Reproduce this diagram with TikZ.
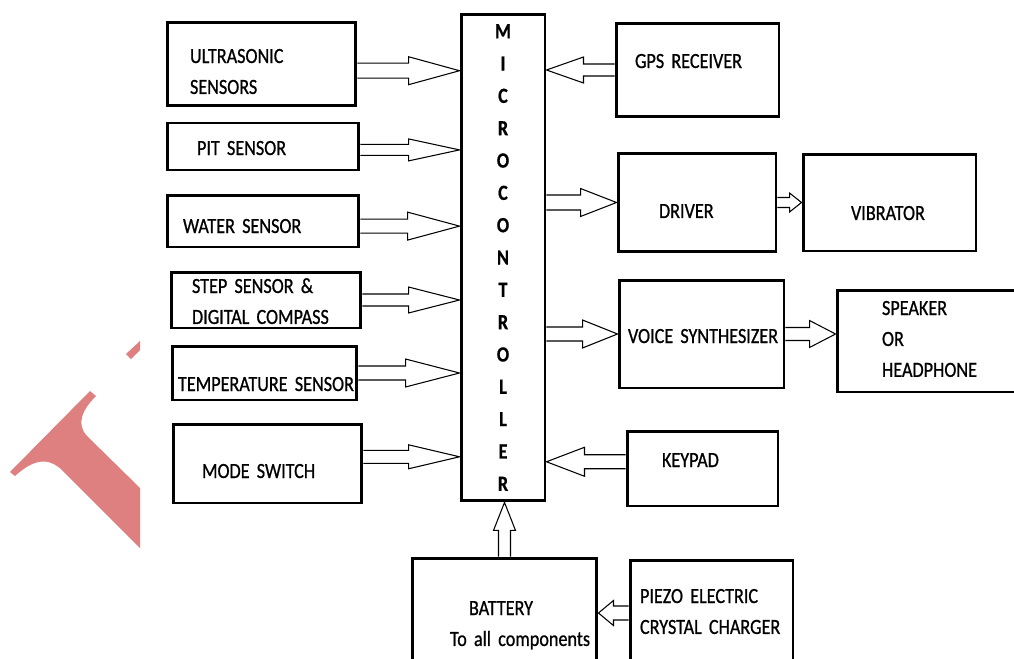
\documentclass[tikz,border=0pt]{standalone}
\usepackage{fontspec}
\setmainfont[FakeStretch=0.84, FakeBold=0.8, WordSpace=0.7]{Carlito}
\usepackage{tikz}
\usetikzlibrary{calc}
\definecolor{wmred}{RGB}{222,128,128}
\tikzset{
  box/.style={draw, rectangle, line width=1.7pt, inner sep=0pt, align=left, font=\fontsize{12.3}{17.6}\selectfont},
  mcubox/.style={draw, rectangle, line width=1.7pt, inner sep=0pt, align=center, font=\fontsize{12.3}{18.4}\selectfont\bfseries},
  blockarr/.style={draw, line width=0.6pt, line join=miter}
}
% hollow block arrow: from, to, head length, half shaft, half head
\newcommand{\barrow}[5]{%
  \coordinate (ba) at (#1);
  \coordinate (bb) at (#2);
  \coordinate (bc) at ($(bb)!#3!(ba)$);
  \draw[blockarr] ($(ba)!#4!90:(bb)$) -- ($(bc)!#4!90:(bb)$) -- ($(bc)!#5!90:(bb)$) -- (bb)
    -- ($(bc)!#5!-90:(bb)$) -- ($(bc)!#4!-90:(bb)$) -- ($(ba)!#4!-90:(bb)$);
}

\begin{document}
\begin{tikzpicture}[x=0.02cm, y=-0.02cm]
  \useasboundingbox (0,0) rectangle (1014,659);
  \clip (0,0) rectangle (1014,659);

  % Watermark fragment
  \fill[wmred] (10,472) -- (90,391) -- (96,396) .. controls (82,410) and (76,424) .. (87,436)
    -- (140,488) -- (140,548) -- (63,471) .. controls (52,460) and (38,455) .. (15,476) -- cycle;
  \fill[wmred] (126,354) -- (140,341) -- (140,350) -- (131,359) -- cycle;

  % Controller
  \node[mcubox, minimum width=1.68cm, minimum height=9.74cm] (mcu) at (503,257.5)
    {M\\I\\C\\R\\O\\C\\O\\N\\T\\R\\O\\L\\L\\E\\R};

  % Input side
  \node[box, minimum width=3.78cm, minimum height=1.68cm, text width=2.86cm, text height=0cm, text depth=0.04cm] (ultra) at (261.5,64) {ULTRASONIC\\SENSORS};
  \node[box, minimum width=3.84cm, minimum height=0.94cm, text width=2.64cm, text height=0.34cm, text depth=0cm] (pit) at (263,146.5) {PIT SENSOR};
  \node[box, minimum width=3.84cm, minimum height=1.04cm, text width=3.20cm, text height=0.48cm, text depth=0cm] (water) at (263,221) {WATER SENSOR};
  \node[box, minimum width=3.80cm, minimum height=1.12cm, text width=2.96cm, text height=0cm, text depth=0.28cm] (step) at (266,300) {\mbox{STEP SENSOR \&}\\\mbox{DIGITAL COMPASS}};
  \node[box, minimum width=3.70cm, minimum height=1.08cm, text width=3.46cm, text height=0.72cm, text depth=0cm] (temp) at (264.5,373) {\mbox{TEMPERATURE SENSOR}};
  \node[box, minimum width=3.78cm, minimum height=1.58cm, text width=2.62cm, text height=0.58cm, text depth=0cm] (mode) at (267.5,463.5) {MODE SWITCH};

  % Output side
  \node[box, minimum width=3.26cm, minimum height=1.88cm, text width=2.50cm, text height=0cm, text depth=0.08cm] (gps) at (697.5,70) {GPS RECEIVER};
  \node[box, minimum width=3.16cm, minimum height=1.98cm, text width=1.52cm, text height=0.62cm, text depth=0cm] (driver) at (697,202.5) {DRIVER};
  \node[box, minimum width=3.46cm, minimum height=1.94cm, text width=1.54cm, text height=0.70cm, text depth=0cm] (vib) at (889.5,202.5) {\mbox{VIBRATOR}};
  \node[box, minimum width=3.30cm, minimum height=2.16cm, text width=2.94cm, text height=0.36cm, text depth=0cm] (voice) at (701.5,334) {\mbox{VOICE SYNTHESIZER}};
  \node[box, minimum width=3.86cm, minimum height=2.04cm, text width=2.06cm, text height=0cm, text depth=1.04cm] (speaker) at (933.5,341) {SPEAKER\\OR\\HEADPHONE};
  \node[box, minimum width=3.02cm, minimum height=1.50cm, text width=1.62cm, text height=0cm, text depth=0.06cm] (keypad) at (702.5,468.5) {KEYPAD};

  % Power
  \node[box, minimum width=3.70cm, minimum height=2.20cm, text width=2.18cm, text height=0.08cm, text depth=0cm] (battery) at (504.5,613) {\hspace*{0.38cm}BATTERY\\\mbox{To all components}};
  \node[box, minimum width=3.26cm, minimum height=2.12cm, text width=2.86cm, text height=0cm, text depth=0.40cm] (piezo) at (711.5,613) {\mbox{PIEZO ELECTRIC}\\\mbox{CRYSTAL CHARGER}};

  % Sensors into the controller
  \barrow{ultra.-4.2}{mcu.west |- ultra.-4.2}{1.02cm}{0.15cm}{0.28cm}
  \barrow{pit.-2.1}{mcu.west |- pit.-2.1}{1.02cm}{0.11cm}{0.22cm}
  \barrow{water.-3}{mcu.west |- water.-3}{1.04cm}{0.14cm}{0.28cm}
  \barrow{step.east}{mcu.west |- step.east}{1.02cm}{0.12cm}{0.26cm}
  \barrow{temp.east}{mcu.west |- temp.east}{1.08cm}{0.14cm}{0.28cm}
  \barrow{mode.4.5}{mcu.west |- mode.4.5}{1.02cm}{0.13cm}{0.24cm}

  % Controller outputs and inputs on the right
  \barrow{gps.west}{mcu.east |- gps.west}{0.74cm}{0.12cm}{0.26cm}
  \barrow{mcu.east |- driver.west}{driver.west}{0.72cm}{0.15cm}{0.28cm}
  \barrow{driver.east}{vib.west}{0.24cm}{0.10cm}{0.19cm}
  \barrow{mcu.east |- voice.west}{voice.west}{0.70cm}{0.14cm}{0.28cm}
  \barrow{voice.east}{speaker.west |- voice.east}{0.52cm}{0.13cm}{0.27cm}
  \barrow{keypad.175}{mcu.east |- keypad.175}{0.76cm}{0.14cm}{0.29cm}

  % Power path
  \barrow{battery.north}{mcu.south -| battery.north}{0.56cm}{0.12cm}{0.22cm}
  \barrow{piezo.west}{battery.east}{0.30cm}{0.14cm}{0.25cm}
\end{tikzpicture}
\end{document}
